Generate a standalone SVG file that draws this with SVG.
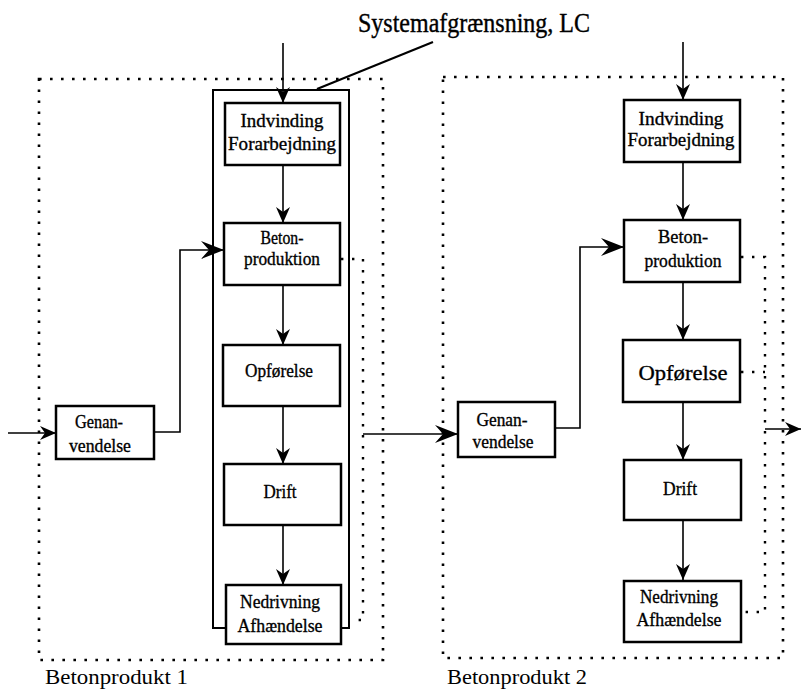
<svg xmlns="http://www.w3.org/2000/svg" width="801" height="689" viewBox="0 0 801 689">
  <style>
    .box { fill: #fff; stroke: #000; stroke-width: 2.5; }
    .frame { fill: none; stroke: #000; stroke-width: 2.6; stroke-dasharray: 2.6 8.4; }
    .dots { fill: none; stroke: #000; stroke-width: 2.4; stroke-dasharray: 2.4 8.6; }
    .sys { fill: none; stroke: #000; stroke-width: 2; }
    .flow { fill: none; stroke: #000; stroke-width: 1.6; }
    .lbl { font-family: "Liberation Serif", "Times New Roman", serif; font-size: 19px; fill: #000; stroke: #000; stroke-width: 0.35; text-anchor: middle; }
    .cap { font-family: "Liberation Serif", "Times New Roman", serif; font-size: 21px; fill: #000; }
    .title { font-family: "Liberation Serif", "Times New Roman", serif; font-size: 28px; fill: #000; stroke: #000; stroke-width: 0.4; }
  </style>
  <defs>
    <marker id="head" markerUnits="userSpaceOnUse" markerWidth="17" markerHeight="15" viewBox="-16 -7.5 17 15" refX="0" refY="0" orient="auto">
      <path d="M0,0 L-16,-7 L-11,0 L-16,7 Z" fill="#000"/>
    </marker>
    <marker id="headL" markerUnits="userSpaceOnUse" markerWidth="25" markerHeight="19" viewBox="-24 -9.5 25 19" refX="0" refY="0" orient="auto">
      <path d="M0,0 L-23,-9 L-15,0 L-23,9 Z" fill="#000"/>
    </marker>
  </defs>

  <!-- product boundaries -->
  <g id="frame-1">
    <rect class="frame" x="39" y="79" width="344" height="581"/>
    <text class="cap" x="45" y="684" textLength="143" lengthAdjust="spacingAndGlyphs">Betonprodukt 1</text>
  </g>
  <g id="frame-2">
    <rect class="frame" x="443" y="77" width="340" height="581"/>
    <text class="cap" x="447" y="684" textLength="140" lengthAdjust="spacingAndGlyphs">Betonprodukt 2</text>
  </g>

  <!-- system boundary LC -->
  <g id="system-boundary">
    <rect class="sys" x="213" y="90" width="136" height="538"/>
    <text class="title" x="358" y="32" textLength="232" lengthAdjust="spacingAndGlyphs">Systemafgrænsning, LC</text>
    <line x1="317" y1="89" x2="433" y2="42" stroke="#000" stroke-width="2.2"/>
  </g>

  <!-- connectors -->
  <g id="connectors">
    <!-- product 1 chain -->
    <line class="flow" x1="283" y1="43" x2="283" y2="103" marker-end="url(#head)"/>
    <line class="flow" x1="283" y1="165" x2="283" y2="223" marker-end="url(#head)"/>
    <line class="flow" x1="283" y1="285" x2="283" y2="345" marker-end="url(#head)"/>
    <line class="flow" x1="283" y1="406" x2="283" y2="464" marker-end="url(#head)"/>
    <line class="flow" x1="283" y1="525" x2="283" y2="585" marker-end="url(#head)"/>
    <line class="flow" x1="8" y1="433" x2="56" y2="433" marker-end="url(#head)"/>
    <polyline class="flow" points="154,432 180,432 180,250 224,250" stroke-width="2" marker-end="url(#headL)"/>
    <polyline class="dots" points="341,259 363,259 363,620 349,620"/>
    <line class="flow" x1="363" y1="434" x2="458" y2="434" marker-end="url(#headL)"/>

    <!-- product 2 chain -->
    <line class="flow" x1="683" y1="42" x2="683" y2="100" marker-end="url(#head)"/>
    <line class="flow" x1="683" y1="162" x2="683" y2="220" marker-end="url(#head)"/>
    <line class="flow" x1="683" y1="282" x2="683" y2="340" marker-end="url(#head)"/>
    <line class="flow" x1="683" y1="402" x2="683" y2="460" marker-end="url(#head)"/>
    <line class="flow" x1="683" y1="520" x2="683" y2="580" marker-end="url(#head)"/>
    <polyline class="flow" points="555,428 580,428 580,247 624,247" stroke-width="2" marker-end="url(#headL)"/>
    <polyline class="dots" points="741,257 765,257 765,612 742,612"/>
    <line class="dots" x1="741" y1="372" x2="765" y2="372"/>
    <line class="flow" x1="765" y1="429" x2="801" y2="429" marker-end="url(#head)"/>
  </g>

  <!-- product 1 nodes -->
  <g id="indvinding-1">
    <rect class="box" x="225" y="103" width="115" height="62"/>
    <text class="lbl" x="282" y="127" textLength="83" lengthAdjust="spacingAndGlyphs">Indvinding</text>
    <text class="lbl" x="282" y="150" textLength="108" lengthAdjust="spacingAndGlyphs">Forarbejdning</text>
  </g>
  <g id="beton-1">
    <rect class="box" x="224" y="223" width="116" height="62"/>
    <text class="lbl" x="282" y="244" textLength="43" lengthAdjust="spacingAndGlyphs">Beton-</text>
    <text class="lbl" x="282" y="265" textLength="76" lengthAdjust="spacingAndGlyphs">produktion</text>
  </g>
  <g id="opfoerelse-1">
    <rect class="box" x="223" y="345" width="117" height="61"/>
    <text class="lbl" x="279" y="377" textLength="68" lengthAdjust="spacingAndGlyphs">Opførelse</text>
  </g>
  <g id="drift-1">
    <rect class="box" x="224" y="464" width="117" height="61"/>
    <text class="lbl" x="280" y="498" textLength="33" lengthAdjust="spacingAndGlyphs">Drift</text>
  </g>
  <g id="nedrivning-1">
    <rect class="box" x="226" y="585" width="115" height="59"/>
    <text class="lbl" x="280" y="608" textLength="80" lengthAdjust="spacingAndGlyphs">Nedrivning</text>
    <text class="lbl" x="280" y="632" textLength="85" lengthAdjust="spacingAndGlyphs">Afhændelse</text>
  </g>
  <g id="genanvendelse-1">
    <rect class="box" x="56" y="406" width="98" height="53"/>
    <text class="lbl" x="99" y="428" textLength="48" lengthAdjust="spacingAndGlyphs">Genan-</text>
    <text class="lbl" x="100" y="452" textLength="62" lengthAdjust="spacingAndGlyphs">vendelse</text>
  </g>

  <!-- product 2 nodes -->
  <g id="indvinding-2">
    <rect class="box" x="624" y="100" width="116" height="62"/>
    <text class="lbl" x="681" y="125" textLength="85" lengthAdjust="spacingAndGlyphs">Indvinding</text>
    <text class="lbl" x="681" y="146" textLength="107" lengthAdjust="spacingAndGlyphs">Forarbejdning</text>
  </g>
  <g id="beton-2">
    <rect class="box" x="624" y="220" width="116" height="62"/>
    <text class="lbl" x="683" y="243" textLength="50" lengthAdjust="spacingAndGlyphs">Beton-</text>
    <text class="lbl" x="683" y="267" textLength="77" lengthAdjust="spacingAndGlyphs">produktion</text>
  </g>
  <g id="opfoerelse-2">
    <rect class="box" x="623" y="340" width="117" height="62"/>
    <text class="lbl" x="683" y="380" style="font-size:22px" textLength="89" lengthAdjust="spacingAndGlyphs">Opførelse</text>
  </g>
  <g id="drift-2">
    <rect class="box" x="624" y="460" width="117" height="60"/>
    <text class="lbl" x="680" y="495" textLength="34" lengthAdjust="spacingAndGlyphs">Drift</text>
  </g>
  <g id="nedrivning-2">
    <rect class="box" x="624" y="581" width="117" height="61"/>
    <text class="lbl" x="679" y="603" textLength="78" lengthAdjust="spacingAndGlyphs">Nedrivning</text>
    <text class="lbl" x="679" y="626" textLength="85" lengthAdjust="spacingAndGlyphs">Afhændelse</text>
  </g>
  <g id="genanvendelse-2">
    <rect class="box" x="458" y="402" width="97" height="55"/>
    <text class="lbl" x="502" y="426" textLength="51" lengthAdjust="spacingAndGlyphs">Genan-</text>
    <text class="lbl" x="503" y="448" textLength="61" lengthAdjust="spacingAndGlyphs">vendelse</text>
  </g>
</svg>
